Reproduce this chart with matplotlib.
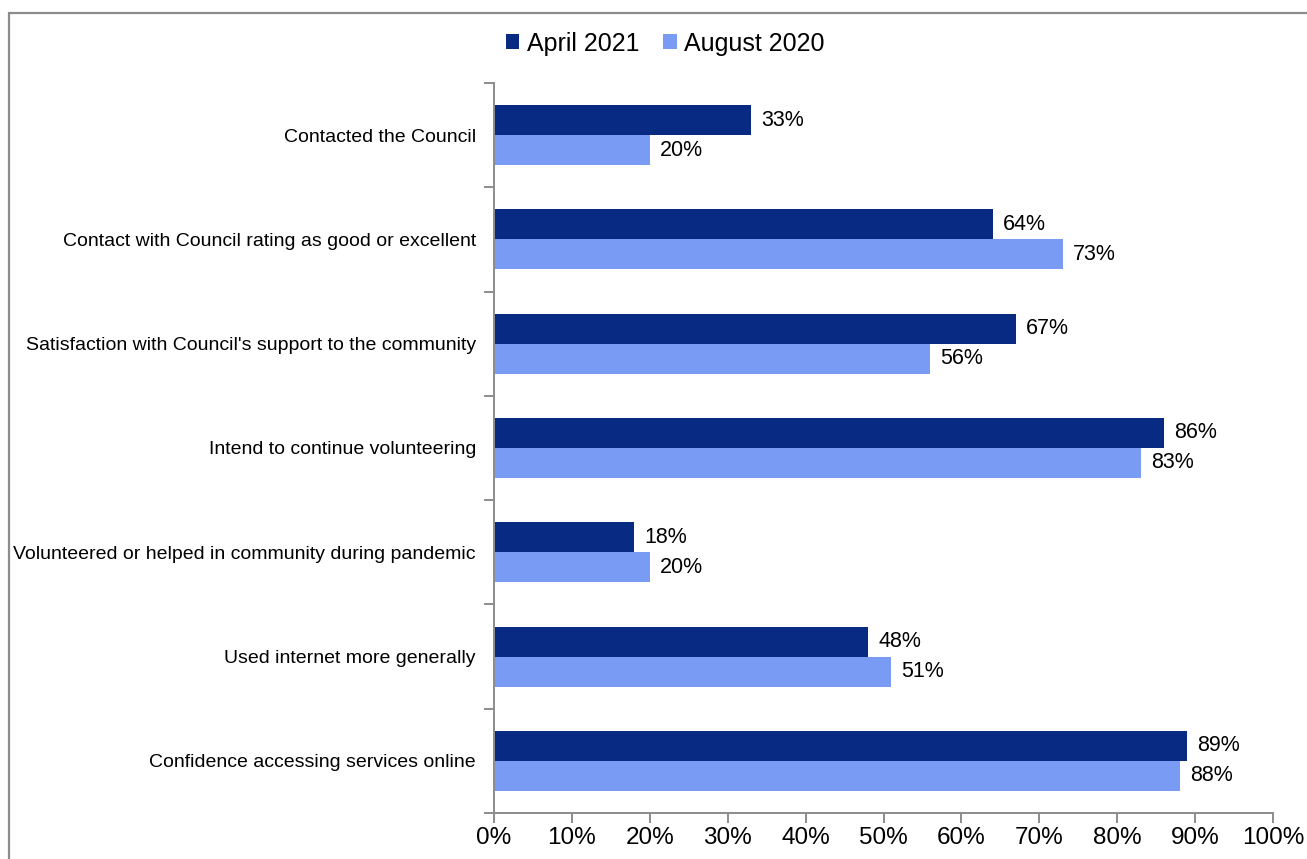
"""Horizontal bar comparison of survey results, April 2021 vs August 2020."""

import matplotlib.pyplot as plt
import numpy as np
from matplotlib.patches import Rectangle

plt.rcParams["font.family"] = ["Liberation Sans", "DejaVu Sans"]

categories = [
    "Contacted the Council",
    "Contact with Council rating as good or excellent",
    "Satisfaction with Council's support to the community",
    "Intend to continue volunteering",
    "Volunteered or helped in community during pandemic",
    "Used internet more generally",
    "Confidence accessing services online",
]
april_2021 = [33, 64, 67, 86, 18, 48, 89]
august_2020 = [20, 73, 56, 83, 20, 51, 88]
series_names = ["April 2021", "August 2020"]
x_ticks = [0, 10, 20, 30, 40, 50, 60, 70, 80, 90, 100]

DARK = "#082A82"
LIGHT = "#7A9BF4"
AXIS_GREY = "#8C8C8C"

fig = plt.figure(figsize=(13.07, 8.59), dpi=100)
ax = fig.add_axes([0.378, 0.0535, 0.596, 0.85])

n = len(categories)
y = np.arange(n)
bar_h = 0.288

ax.barh(y - bar_h / 2, april_2021, height=bar_h, color=DARK, label=series_names[0])
ax.barh(y + bar_h / 2, august_2020, height=bar_h, color=LIGHT, label=series_names[1])

for yi, v1, v2 in zip(y, april_2021, august_2020):
    ax.text(v1 + 1.3, yi - bar_h / 2, f"{v1}%", va="center", ha="left", fontsize=15.5)
    ax.text(v2 + 1.3, yi + bar_h / 2, f"{v2}%", va="center", ha="left", fontsize=15.5)

ax.set_xlim(0, 100)
ax.set_ylim(n - 0.5, -0.5)
ax.set_xticks(x_ticks)
ax.set_xticklabels([f"{t}%" for t in x_ticks], fontsize=17.5)

# category labels sit between the boundary ticks
ax.set_yticks(y)
ax.set_yticklabels(categories, fontsize=14)
ax.tick_params(axis="y", length=0, pad=13)
ax.set_yticks(np.arange(n + 1) - 0.5, minor=True)
ax.tick_params(axis="y", which="minor", length=7, width=1.4, color=AXIS_GREY)
ax.tick_params(axis="x", length=7, width=1.4, color=AXIS_GREY, pad=3)

for side in ("top", "right"):
    ax.spines[side].set_visible(False)
for side in ("left", "bottom"):
    ax.spines[side].set_color(AXIS_GREY)
    ax.spines[side].set_linewidth(1.4)

fig.legend(
    loc="center",
    bbox_to_anchor=(0.509, 0.949),
    ncol=2,
    frameon=False,
    fontsize=18,
    handlelength=0.55,
    handleheight=0.55,
    handletextpad=0.3,
    columnspacing=0.95,
)

# outer chart frame, running off the canvas on the right and bottom
frame = Rectangle(
    (8.5 / 1307, -0.05),
    1.1,
    1 - 12.5 / 859 + 0.05,
    transform=fig.transFigure,
    fill=False,
    edgecolor=AXIS_GREY,
    linewidth=1.6,
    clip_on=False,
)
fig.patches.append(frame)

fig.savefig("out.png", dpi=100, facecolor="white")
